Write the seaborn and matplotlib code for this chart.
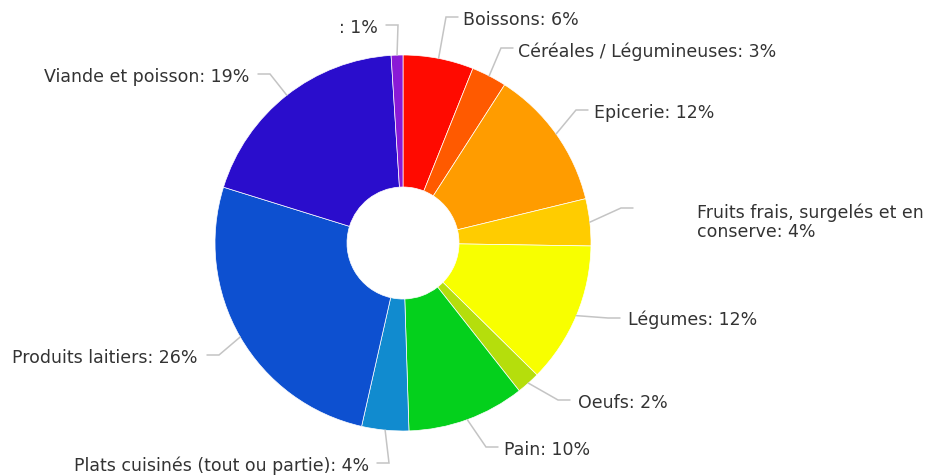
import numpy as np
import matplotlib
matplotlib.use("Agg")
import matplotlib.pyplot as plt
import seaborn as sns

# Data, clockwise from 12 o'clock
categories = ["Boissons", "Céréales / Légumineuses", "Epicerie",
              "Fruits frais, surgelés et en\nconserve", "Légumes", "Oeufs",
              "Pain", "Plats cuisinés (tout ou partie)", "Produits laitiers",
              "Viande et poisson", ""]
percents = [6, 3, 12, 4, 12, 2, 10, 4, 26, 19, 1]
colors = ["#ff0a00", "#ff5a00", "#ff9c00", "#ffcc00", "#f8ff00", "#b5de0c",
          "#04d01c", "#118bcf", "#0d50d0", "#2a0dcc", "#8a1ad6"]

# Label layout in pixels: text x, text y, alignment, connector end x, end y
label_layout = [
    (463, 20, "left", 458, 17),
    (518, 52, "left", 513, 48),
    (594, 113, "left", 588, 110),
    (697, 222, "left", 633, 208),
    (628, 320, "left", 620, 318),
    (578, 403, "left", 570, 400),
    (504, 450, "left", 498, 447),
    (369, 466, "right", 377, 463),
    (198, 358, "right", 207, 355),
    (249, 77, "right", 258, 74),
    (378, 28, "right", 386, 25),
]

W, H = 933, 475
cx, cy, R, r_in = 403, 243, 188, 56

sns.set_theme(style="white")
plt.rcParams["font.family"] = ["DejaVu Sans"]

fig = plt.figure(figsize=(W / 100, H / 100), dpi=100)
ax = fig.add_axes([0, 0, 1, 1])

wedges, _ = ax.pie(percents, colors=colors, startangle=90, counterclock=False,
                   radius=R, center=(cx, H - cy),
                   wedgeprops=dict(width=R - r_in, edgecolor="white", linewidth=0.5))

for w, cat, p, (tx, ty, ha, ex, ey) in zip(wedges, categories, percents, label_layout):
    mid = np.deg2rad((w.theta1 + w.theta2) / 2)
    ax_, ay_ = cx + R * np.cos(mid), (H - cy) + R * np.sin(mid)
    s = 1 if ha == "left" else -1
    xs = [ax_, ex - s * 12, ex]
    ys = [ay_, H - ey, H - ey]
    ax.plot(xs, ys, color="#c4c4c4", lw=1.1, solid_joinstyle="miter", zorder=1)
    ax.text(tx, H - ty, f"{cat}: {p}%", ha=ha, va="center", fontsize=12.5,
            color="#333333", linespacing=1.1)

ax.set_xlim(0, W)
ax.set_ylim(0, H)
ax.set_aspect("equal")
ax.axis("off")

fig.savefig("out.png", dpi=100, facecolor="white")
